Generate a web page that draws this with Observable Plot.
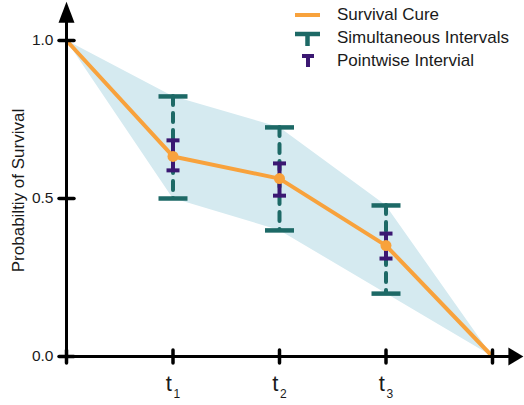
<!DOCTYPE html>
<html>
<head>
<meta charset="utf-8">
<script src="https://cdn.jsdelivr.net/npm/d3@7"></script>
<script src="https://cdn.jsdelivr.net/npm/@observablehq/plot@0.6"></script>
<style>
  html, body { margin: 0; padding: 0; background: #fff; }
  body { font-family: "Liberation Sans", Arial, sans-serif; }
  #wrap { position: relative; width: 524px; height: 405px; overflow: hidden; }
  #legend { position: absolute; left: 290px; top: 3px; font-size: 17px; color: #1a1a1a; line-height: 23px; }
  #legend .row { display: flex; align-items: center; height: 23px; }
  #legend svg { width: 34px; height: 23px; margin-right: 13px; }
</style>
</head>
<body>
<div id="wrap">
  <div id="chart"></div>
  <div id="legend"></div>
</div>
<script>
// ---- data ----
const times        = [0, 1, 2, 3, 4];
const survival     = [1.0, 0.633, 0.563, 0.351, 0.0];
const simLower     = [1.0, 0.500, 0.399, 0.199, 0.0];
const simUpper     = [1.0, 0.823, 0.725, 0.478, 0.0];
const intervalTimes = [1, 2, 3];
const pwLower      = [0.589, 0.509, 0.310];
const pwUpper      = [0.684, 0.611, 0.389];
const tickLabels   = ["t1", "t2", "t3"];
const xTickValues  = [0, 1, 2, 3, 4];
const yTickValues  = [0, 0.5, 1];
const xAxisEnd = 4.29, yAxisEnd = 1.123;
const legendLabels = ["Survival Cure", "Simultaneous Intervals", "Pointwise Intervial"];
const yLabel = "Probabiltiy of Survival";

// ---- colours ----
const ORANGE = "#f8a23c", TEAL = "#1d6966", PURPLE = "#3b1872", BAND = "#d5eaf0";

const curve = times.map((t, i) => ({t, s: survival[i], lo: simLower[i], hi: simUpper[i]}));
const intervals = intervalTimes.map((t, i) => ({
  t, s: survival[times.indexOf(t)],
  simLo: simLower[times.indexOf(t)], simHi: simUpper[times.indexOf(t)],
  pwLo: pwLower[i], pwHi: pwUpper[i], label: tickLabels[i]
}));

// custom symbols
const hLine = {draw(ctx, size) { const r = Math.sqrt(size / Math.PI); ctx.moveTo(-r, 0); ctx.lineTo(r, 0); }};
const vLine = {draw(ctx, size) { const r = Math.sqrt(size / Math.PI); ctx.moveTo(0, -r); ctx.lineTo(0, r); }};
const arrowUp = {draw(ctx) { ctx.moveTo(0, 0); ctx.lineTo(8, 21); ctx.lineTo(-8, 21); ctx.closePath(); }};
const arrowRight = {draw(ctx) { ctx.moveTo(0, 0); ctx.lineTo(-15, 9); ctx.lineTo(-15, -9); ctx.closePath(); }};

const plot = Plot.plot({
  width: 524,
  height: 405,
  marginLeft: 66,
  marginRight: 32,
  marginTop: 40,
  marginBottom: 49,
  style: {fontFamily: "'Liberation Sans', Arial, sans-serif", background: "white", overflow: "visible"},
  x: {domain: [0, 4], axis: null},
  y: {domain: [0, 1], axis: null},
  marks: [
    Plot.areaY(curve, {x: "t", y1: "lo", y2: "hi", fill: BAND}),
    Plot.ruleX(intervals, {x: "t", y1: "simHi", y2: "simLo", stroke: TEAL, strokeWidth: 4, strokeDasharray: "9,8", strokeLinecap: "round"}),
    Plot.dot(intervals, {x: "t", y: "simHi", symbol: hLine, r: 14.5, stroke: TEAL, strokeWidth: 4.5, fill: "none"}),
    Plot.dot(intervals, {x: "t", y: "simLo", symbol: hLine, r: 14.5, stroke: TEAL, strokeWidth: 4.5, fill: "none"}),
    Plot.ruleX(intervals, {x: "t", y1: "pwHi", y2: "pwLo", stroke: PURPLE, strokeWidth: 4}),
    Plot.dot(intervals, {x: "t", y: "pwHi", symbol: hLine, r: 6.5, stroke: PURPLE, strokeWidth: 4, fill: "none"}),
    Plot.dot(intervals, {x: "t", y: "pwLo", symbol: hLine, r: 6.5, stroke: PURPLE, strokeWidth: 4, fill: "none"}),
    Plot.line(curve, {x: "t", y: "s", stroke: ORANGE, strokeWidth: 4}),
    Plot.dot(intervals, {x: "t", y: "s", r: 5.5, fill: ORANGE}),
    // axes
    Plot.ruleY([0], {x1: 0, x2: xAxisEnd - 0.1, stroke: "black", strokeWidth: 3}),
    Plot.ruleX([0], {y1: 0, y2: yAxisEnd - 0.04, stroke: "black", strokeWidth: 3}),
    Plot.dot([xAxisEnd], {x: d => d, y: 0, symbol: arrowRight, fill: "black", stroke: null}),
    Plot.dot([yAxisEnd], {x: 0, y: d => d, symbol: arrowUp, fill: "black", stroke: null}),
    Plot.dot(xTickValues, {x: d => d, y: 0, symbol: vLine, r: 6.5, stroke: "black", strokeWidth: 3.5, strokeLinecap: "round"}),
    Plot.dot(yTickValues, {x: 0, y: d => d, symbol: hLine, r: 7.5, stroke: "black", strokeWidth: 3.5, strokeLinecap: "round"}),
    Plot.text(yTickValues, {x: 0, y: d => d, text: d => d3.format(".1f")(d), dx: -13, textAnchor: "end", fontSize: 15.5, fill: "#1a1a1a"}),
    Plot.text(intervals, {x: "t", y: 0, text: "label", dy: 27, fontSize: 22, fill: "#1a1a1a"}),
    Plot.text([yLabel], {frameAnchor: "left", textAnchor: "middle", text: d => d, rotate: -90, dx: -48, dy: -8, fontSize: 17, fill: "#1a1a1a"})
  ]
});

// turn "t1" into t with subscript
d3.select(plot).selectAll("text").each(function() {
  const s = this.textContent;
  if (/^t\d$/.test(s)) {
    const el = d3.select(this);
    el.text(null);
    el.append("tspan").text("t");
    el.append("tspan").attr("dy", "7").attr("dx", "1.5").attr("font-size", "12px").text(s[1]);
  }
});
document.getElementById("chart").appendChild(plot);

// legend
const legendIcons = [
  `<line x1="5" x2="30" y1="12" y2="12" stroke="${ORANGE}" stroke-width="4"/>`,
  `<line x1="5" x2="30" y1="8" y2="8" stroke="${TEAL}" stroke-width="4.5"/><line x1="17.5" x2="17.5" y1="8" y2="20" stroke="${TEAL}" stroke-width="4.5"/>`,
  `<line x1="12" x2="24" y1="7" y2="7" stroke="${PURPLE}" stroke-width="4"/><line x1="18" x2="18" y1="7" y2="18" stroke="${PURPLE}" stroke-width="4"/>`
];
const legend = document.getElementById("legend");
legendLabels.forEach((lab, i) => {
  const row = document.createElement("div");
  row.className = "row";
  row.innerHTML = `<svg viewBox="0 0 34 23">${legendIcons[i]}</svg><span>${lab}</span>`;
  legend.appendChild(row);
});
</script>
</body>
</html>
